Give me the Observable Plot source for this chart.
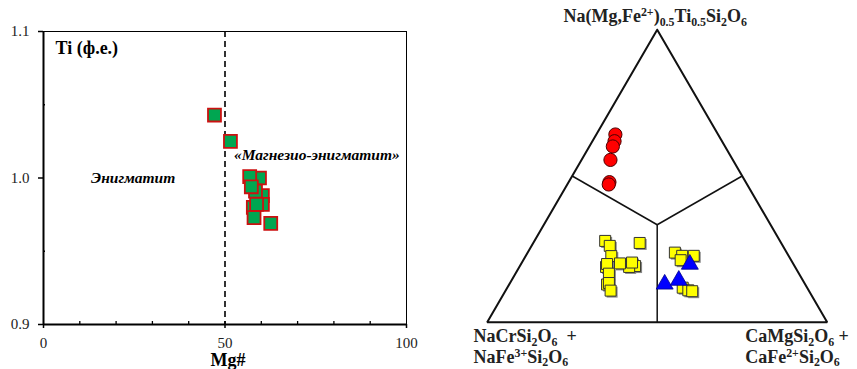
<!DOCTYPE html>
<html><head><meta charset="utf-8">
<script src="https://cdn.jsdelivr.net/npm/d3@7"></script>
<script src="https://cdn.jsdelivr.net/npm/@observablehq/plot@0.6"></script>
<style>
html,body{margin:0;padding:0;background:#fff;}
#wrap{display:flex;width:857px;height:369px;overflow:hidden;}
#wrap svg{display:block;flex:none;}
</style></head><body><div id="wrap"></div>
<script>
// ---------- Left diagram: Ti (apfu) vs Mg# ----------
const mgNumber = [59.5, 60.3, 60.3, 57.8, 58.4, 56.8, 57.25, 58.7, 58.0, 62.6, 47.1, 51.5];
const tiApfu   = [1.000, 0.988, 0.982, 0.980, 0.991, 1.001, 0.994, 0.982, 0.973, 0.969, 1.043, 1.025];
const xMajorTicks = [0, 50, 100];
const xMinorTicks = [10, 20, 30, 40, 50, 60, 70, 80, 90];
const yMajorTicks = [0.9, 1.0, 1.1];
const yMinorTicks = [0.95, 1.05];
const boundaryMg = [50];
const fieldNames = ["Энигматит", "«Магнезио-энигматит»"];
const fieldMg = [24.7, 75.3];
const fieldTi = [1.0, 1.016];

// ---------- Right diagram: ternary ----------
// components in %: top = Na(Mg,Fe2+)0.5Ti0.5Si2O6, left = NaCrSi2O6+NaFe3+Si2O6, right = CaMgSi2O6+CaFe2+Si2O6
const circleTop   = [64.2, 61.9, 60.1, 55.5, 47.9, 47.1];
const circleLeft  = [30.2, 31.6, 33.0, 36.0, 40.1, 40.7];
const circleRight = [ 5.6,  6.5,  6.9,  8.5, 12.0, 12.2];

const squareTop   = [18.9, 12.9, 27.8, 26.1, 22.6, 19.9, 19.2, 18.9, 20.1, 20.4, 16.6, 13.4, 10.8, 27.1, 23.8, 22.7, 22.7, 21.2, 11.8, 10.9, 10.6];
const squareLeft  = [55.6, 58.3, 51.4, 50.9, 52.2, 54.8, 46.9, 48.8, 50.9, 47.2, 55.9, 57.5, 58.3, 41.6, 32.9, 31.3, 27.9, 32.5, 36.6, 35.4, 34.4];
const squareRight = [25.5, 28.8, 20.8, 23.0, 25.2, 25.3, 33.9, 32.3, 29.0, 32.4, 27.5, 29.1, 30.9, 31.3, 43.3, 46.0, 49.4, 46.3, 51.6, 53.7, 55.0];

const triangleTop   = [19.8, 13.0, 14.3];
const triangleLeft  = [30.5, 41.3, 36.5];
const triangleRight = [49.7, 45.7, 49.2];

const vertexLabels = ["Na(Mg,Fe^{2+})_{0.5}Ti_{0.5}Si_{2}O_{6}"];
const leftCornerLines = ["NaCrSi_{2}O_{6}  +", "NaFe^{3+}Si_{2}O_{6}"];
const rightCornerLines = ["CaMgSi_{2}O_{6} +", "CaFe^{2+}Si_{2}O_{6}"];

// ---------- build ----------
const serif = "'Liberation Serif', 'Times New Roman', Tinos, 'DejaVu Serif', serif";
const CHEM = 18;
const H = Math.sqrt(3) / 2;
const tern = (top, left, right) => {
  const s = top + left + right;
  return {x: (right + top / 2) / s, y: (top / s) * H, top, left, right};
};
const zipTern = (a, b, c) => a.map((t, i) => tern(t, b[i], c[i]));

const greenPts = mgNumber.map((m, i) => ({mg: m, ti: tiApfu[i]}));
const fields = fieldNames.map((n, i) => ({label: n, mg: fieldMg[i], ti: fieldTi[i]}));

const leftPlot = Plot.plot({
  width: 440, height: 369,
  marginLeft: 43, marginRight: 34, marginTop: 31, marginBottom: 45,
  x: {domain: [0, 100]},
  y: {domain: [0.9, 1.1]},
  style: {background: "#fff", color: "#000"},
  marks: [
    Plot.frame({stroke: "#000", strokeWidth: 1}),
    Plot.ruleX(boundaryMg, {stroke: "#000", strokeWidth: 1.6, strokeDasharray: "6,4"}),
    Plot.tickX(xMinorTicks, {x: d => d, insetTop: 290, stroke: "#000", strokeWidth: 1.3}),
    Plot.tickY(yMinorTicks, {y: d => d, insetRight: 361, stroke: "#000", strokeWidth: 1.3}),
    Plot.ruleX([0], {stroke: "#000", strokeWidth: 2}),
    Plot.ruleY([0.9], {stroke: "#000", strokeWidth: 2}),
    Plot.axisX({ticks: xMajorTicks, tickSize: 4, tickPadding: 9, tickFormat: d => String(d), fontSize: 15, label: null, strokeWidth: 1.5, fill: "#222"}),
    Plot.axisY({ticks: yMajorTicks, tickSize: 5, tickPadding: 9, tickFormat: d3.format(".1f"), fontSize: 15, label: null, strokeWidth: 1.5, fill: "#222"}),
    Plot.text(["Ti (ф.е.)"], {frameAnchor: "top-left", dx: 12, dy: 22, lineAnchor: "bottom", textAnchor: "start", fontSize: 18, fontWeight: "bold", fill: "#000"}),
    Plot.text(["Mg#"], {frameAnchor: "bottom", dx: 3, dy: 41.5, lineAnchor: "bottom", fontSize: 18, fontWeight: "bold", fill: "#000"}),
    Plot.text(fields, {x: "mg", y: "ti", text: "label", fontSize: 15.5, fontWeight: "bold", fontStyle: "italic", fill: "#000"}),
    Plot.dot(greenPts, {x: "mg", y: "ti", symbol: "square", r: 7.3, fill: "#00a651", stroke: "#cc1111", strokeWidth: 1.8})
  ]
});

const outline = [tern(100, 0, 0), tern(0, 100, 0), tern(0, 0, 100), tern(100, 0, 0)];
const centre = tern(1, 1, 1);
const boundaries = [tern(50, 50, 0), tern(50, 0, 50), tern(0, 50, 50)].map(p => ({x1: p.x, y1: p.y, x2: centre.x, y2: centre.y}));
const circles = zipTern(circleTop, circleLeft, circleRight);
const squares = zipTern(squareTop, squareLeft, squareRight);
const triangles = zipTern(triangleTop, triangleLeft, triangleRight);
const apex = tern(100, 0, 0);
const leftCorner = tern(0, 100, 0);
const rightCorner = tern(0, 0, 100);

const rightPlot = Plot.plot({
  width: 417, height: 369,
  marginLeft: 46.7, marginRight: 30.3, marginTop: 29.3, marginBottom: 47.3,
  x: {domain: [0, 1], axis: null},
  y: {domain: [0, H], axis: null},
  style: {background: "#fff", color: "#000"},
  marks: [
    Plot.link(boundaries, {x1: "x1", y1: "y1", x2: "x2", y2: "y2", stroke: "#111", strokeWidth: 1.5}),
    Plot.line(outline, {x: "x", y: "y", stroke: "#111", strokeWidth: 2, strokeLinejoin: "miter"}),
    Plot.dot(squares, {x: "x", y: "y", symbol: "square", r: 6.2, fill: "#8a8a8a", dx: 1.5, dy: 1.5}),
    Plot.dot(squares, {x: "x", y: "y", symbol: "square", r: 6.2, fill: "#ffff00", stroke: "#333", strokeWidth: 1}),
    Plot.dot(triangles, {x: "x", y: "y", symbol: "triangle", r: 6.3, fill: "#0000ff", stroke: "#00008a", strokeWidth: 0.8}),
    Plot.dot(circles, {x: "x", y: "y", symbol: "circle", r: 6.6, fill: "#ff0000", stroke: "#4a0000", strokeWidth: 1}),
    Plot.text(vertexLabels, {x: () => apex.x, y: () => apex.y, dx: -2, dy: -7.6, lineAnchor: "bottom", textAnchor: "middle", fontSize: CHEM, fontWeight: "bold", fill: "#222"}),
    Plot.text(leftCornerLines, {x: () => leftCorner.x, y: () => leftCorner.y, dx: -13.7, lineAnchor: "bottom", textAnchor: "start", fontSize: CHEM, fontWeight: "bold", fill: "#222", className: "lc"}),
    Plot.text(rightCornerLines, {x: () => rightCorner.x, y: () => rightCorner.y, dx: -82, lineAnchor: "bottom", textAnchor: "start", fontSize: CHEM, fontWeight: "bold", fill: "#222", className: "rc"})
  ]
});

// stack the two-line corner labels below the corner
function stackLines(svg, cls) {
  d3.select(svg).selectAll(`g.${cls} text`).each(function(d, i) {
    const y = parseFloat(this.getAttribute("y")) || 0;
    this.setAttribute("y", y + 20.3 + i * 20.3);
  });
}
// render _{..} and ^{..} as sub/superscripts
function applyScripts(svg) {
  d3.select(svg).selectAll("text").each(function() {
    const s = this.textContent;
    if (!/[_^]\{/.test(s)) return;
    const fs = CHEM;
    const sel = d3.select(this);
    sel.text("");
    sel.attr("xml:space", "preserve");
    const re = /([_^])\{([^}]*)\}|([^_^]+)/g;
    let m, shift = 0;
    while ((m = re.exec(s))) {
      let target, txt, size = null;
      if (m[3] !== undefined) { target = 0; txt = m[3]; }
      else { target = m[1] === "_" ? 0.2 * fs : -0.34 * fs; txt = m[2]; size = 0.66 * fs; }
      const t = sel.append("tspan").attr("dy", target - shift).text(txt);
      if (size) t.attr("font-size", size);
      shift = target;
    }
  });
}
stackLines(rightPlot, "lc");
stackLines(rightPlot, "rc");
applyScripts(rightPlot);

for (const svg of [leftPlot, rightPlot]) {
  svg.setAttribute("font-family", serif);
  svg.style.fontFamily = serif;
  d3.select(svg).selectAll("g").attr("font-family", null);
  d3.select(svg).selectAll("text, tspan").style("font-family", serif);
}

const wrap = document.getElementById("wrap");
wrap.appendChild(leftPlot);
wrap.appendChild(rightPlot);
</script>
</body></html>
